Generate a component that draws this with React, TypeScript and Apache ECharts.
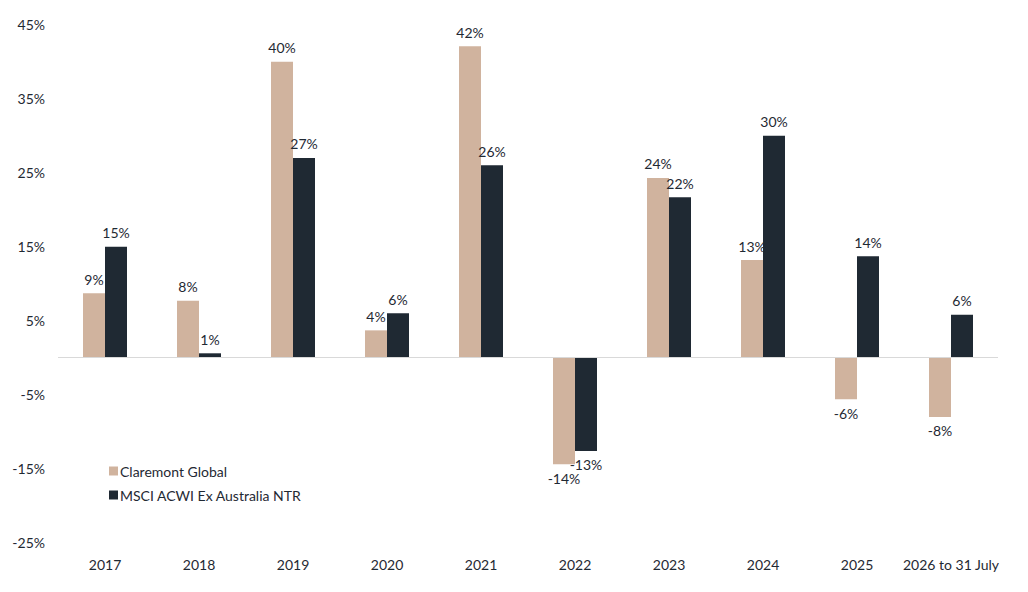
import React, { useEffect, useRef } from "react";
import * as echarts from "echarts";

const categories = ["2017", "2018", "2019", "2020", "2021", "2022", "2023", "2024", "2025", "2026 to 31 July"];
const claremont = [8.6, 7.6, 39.9, 3.6, 42.0, -14.5, 24.2, 13.1, -5.7, -8.1];
const msci = [14.9, 0.5, 26.9, 5.9, 25.9, -12.7, 21.6, 29.9, 13.6, 5.7];
const seriesNames = ["Claremont Global", "MSCI ACWI Ex Australia NTR"];

const FONT = "Lato, 'Noto Sans', sans-serif";
const TEXT = "#1f2933";

export default function App() {
  const ref = useRef<HTMLDivElement>(null);
  useEffect(() => {
    if (!ref.current) return;
    const chart = echarts.init(ref.current, undefined, { renderer: "svg" });
    const label = {
      show: true,
      formatter: (p: any) => Math.round(p.value) + "%",
      color: TEXT,
      fontSize: 14,
      fontFamily: FONT,
      distance: 7,
    };
    chart.setOption({
      animation: false,
      textStyle: { fontFamily: FONT },
      grid: { left: 50, right: 22, top: 16, bottom: 42, containLabel: false },
      legend: {
        orient: "vertical",
        left: 96,
        top: 451,
        itemWidth: 9,
        itemHeight: 9,
        itemGap: 10,
        icon: "rect",
        textStyle: { color: TEXT, fontSize: 14, fontFamily: FONT, padding: [0, 0, 0, -3] },
        data: seriesNames,
      },
      xAxis: {
        type: "category",
        data: categories,
        axisLine: { show: false },
        axisTick: { show: false },
        axisLabel: { color: TEXT, fontSize: 14, fontFamily: FONT, margin: 15, interval: 0 },
      },
      yAxis: {
        type: "value",
        min: -25,
        max: 45,
        interval: 10,
        splitLine: { show: false },
        axisLine: { show: false },
        axisTick: { show: false },
        axisLabel: { color: TEXT, fontSize: 14, fontFamily: FONT, margin: 13, formatter: (v: number) => v + "%" },
      },
      series: [
        {
          name: seriesNames[0],
          type: "bar",
          data: claremont.map((v) => ({ value: v, label: { ...label, position: v < 0 ? "bottom" : "top" } })),
          barWidth: 22,
          barGap: "0%",
          itemStyle: { color: "#d0b39e" },
          markLine: {
            silent: true,
            symbol: "none",
            label: { show: false },
            lineStyle: { color: "#d9d9d9", type: "solid", width: 1 },
            data: [{ yAxis: 0 }],
          },
        },
        {
          name: seriesNames[1],
          type: "bar",
          data: msci.map((v) => ({ value: v, label: { ...label, position: v < 0 ? "bottom" : "top" } })),
          barWidth: 22,
          barGap: "0%",
          itemStyle: { color: "#1f2933" },
        },
      ],
    });
    return () => chart.dispose();
  }, []);
  return <div ref={ref} style={{ width: 1012, height: 576 }} />;
}
